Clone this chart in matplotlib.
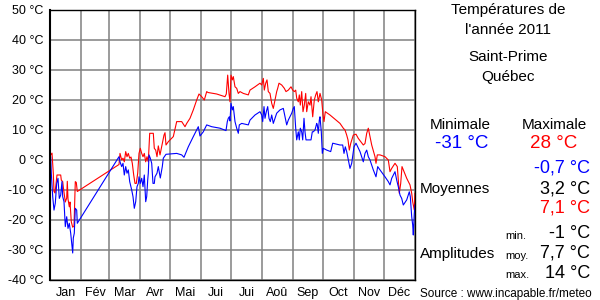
import numpy as np
import matplotlib
matplotlib.use("Agg")
import matplotlib.pyplot as plt

plt.rcParams['font.family'] = ['Liberation Sans', 'DejaVu Sans']

# Daily maximum temperatures (day of year, °C)
max_days = [0, 0.7, 2, 3.3, 4, 5, 6, 7, 10.7, 11.3, 12.7, 13.3, 14.5, 15.3, 16.7, 17.3, 18, 19.3, 20,
            21.3, 22.7, 24, 25.3, 26.3, 27.3,
            69, 70, 71.7, 73, 74.3, 75.7, 77, 78.3, 79.7, 81, 82.3, 83.7, 85, 86.3, 87.7, 89, 90.3,
            91.7, 93, 94.3, 95.7, 97, 98.3, 99.7, 103.3, 104.3, 105.7, 107, 108.3, 110, 112, 114,
            115, 116, 118.3, 123.3, 126.7, 131.7, 135, 136.7, 140, 143.3, 146.7, 149, 151.7, 154.3,
            156.7, 158, 166.7, 175, 176.3, 177.7, 179, 180, 181, 182.3, 183.3, 185, 186.7, 188.3,
            190, 193.3, 198.3, 200, 205, 210, 211.7, 213.3, 214.3, 215.7, 217, 218.3, 220, 221.7,
            223.3, 225, 226.7, 227.7, 229, 231.7, 234.3, 236, 238.3, 241, 242.7, 244.3, 245.7,
            246.7, 248.3, 249.3, 250.3, 251.7, 253, 254.3, 255.7, 256.7, 258.3, 260, 261, 262.7,
            264.3, 265.7, 267, 268.3, 270, 271.7, 273, 274, 275.3, 280, 290, 293.3, 295, 296.7,
            298, 299.3, 300.7, 303.3, 306, 308.3, 313.3, 315, 316.7, 318.3, 319.3, 321.7, 325,
            326, 327.3, 330, 335, 338.3, 340, 341.7, 345, 347.3, 349.3, 350.7, 352, 353.3, 356.7,
            360, 361.7, 362.7, 363.3, 364.3, 365]
max_temps = [1.0, 1.7, 2.3, -4.4, -10.5, -11, -8, -5, -5, -6.7, -7.2, -9, -12, -14, -12.7, -7.1, -13,
             -15.6, -14, -20.6, -22.4, -22, -7.2, -7.5, -10.5,
             -1.5, 2.2, 0, 0.6, -0.6, 2.8, 1.1, 2.2, 0.6, 1, -1.1, -5, -7.8, -7.8, -4.4, 2.2, 3.9,
             2.2, 1.1, 2.2, -0.6, 1.1, -0.6, 8.9, 8.9, 3.9, 3.3, 1.1, 4.7, 1.7, 5, 8.3,
             9.1, 5, 6.1, 7.8, 12.8, 12.8, 11.1, 12.2, 13.9, 16.7, 20, 22, 21.1, 20,
             22.8, 22.5, 22, 21.1, 22, 28.3, 22.2, 19.4, 28.3, 26.7, 27.8, 24.4, 23.9, 22.2,
             22.8, 22.2, 21.7, 23.3, 24.4, 25.6, 25, 27.2, 23.3, 25.6, 26.7, 22.8, 22.2, 18.9,
             17.2, 20, 22.8, 23.9, 25.6, 25, 23.9, 22.8, 23.3, 24.4, 23.3, 22.8, 23.3,
             20.6, 19.4, 21.7, 18.3, 22.8, 16.1, 18.3, 22.2, 16.1, 19.4, 18.3, 21.1, 14.4,
             20, 21.7, 22.8, 19.4, 22.2, 20, 15, 12.8, 16.1, 15, 12.2, 10.6, 10, 8.3,
             6.7, 3.3, 5.5, 8.3, 8.6, 7.2, 5, 5.5, 8.9, 10.6, 8.9, 5, 1.1,
             -1.1, 1.7, 1.7, 1.1, 0, -3.9, -2.8, -1.1, -2.2, -11.1, -7.8, -2.2, -3.3, -6.1,
             -8.3, -11.1, -13.9, -15, -16.7, -11.1]

# Daily minimum temperatures (day of year, °C)
min_days = [0, 0.7, 1.3, 2.7, 4, 5.3, 6.7, 8, 9.3, 10.7, 12, 12.7, 14, 15.3, 16.7, 18, 19.3, 20.7,
            22.7, 23.3, 24.3, 25.3, 26.7, 27.3,
            69, 70, 71.7, 73, 74.3, 75.7, 77, 78.3, 79.7, 81.7, 83, 84.3, 85.7, 87, 88.3, 89, 90.3,
            91.7, 93, 94.3, 95.7, 96.7, 97.7, 98.3, 99, 100.3, 101.7, 103, 104.3, 105, 107, 108.3,
            109.5, 110.3, 112.3, 113.3, 116, 126.7, 131.7, 134, 138.3, 143.3, 146.7, 148.3, 150,
            153.3, 156.7, 161.7, 170, 176, 177.3, 178.3, 179.3, 180, 181, 182.3, 183.3, 185, 186.7,
            188.3, 189.3, 191.7, 198.3, 200, 205, 210, 211.7, 212.7, 214, 215, 216.3, 217.7, 219,
            220.3, 221.7, 223.3, 225, 226.7, 230, 233.3, 235, 236.7, 238.3, 241.7, 243.3, 244.3,
            245.7, 246.7, 248.3, 249.3, 250.3, 251.7, 252.7, 254, 255, 256, 261, 262.3, 263.3, 265,
            266.7, 267.3, 268.3, 269.3, 270, 271.3, 272.3, 273.3, 276.7, 280.7, 282.7, 290, 292.7,
            294, 295.3, 296.7, 298.3, 300, 301.7, 304, 306, 310, 313.3, 315, 316.7, 318.3, 320,
            323.3, 326, 327.7, 330, 335, 338.3, 340, 341.7, 345, 346.7, 348.3, 350, 351.7, 353.3,
            356.7, 359.3, 360.3, 361.7, 362.7, 363.3, 364.3, 365]
min_temps = [0.7, 1.1, -4.4, -12.2, -16.7, -14.4, -7.8, -6.1, -12.8, -11.7, -7.2, -12.2, -13.9, -22.2,
             -18.9, -22.8, -21.1, -24.4, -31, -26, -24.4, -16.1, -16.7, -21.1,
             1.1, -0.6, -2.2, -1.1, -5, -2.2, -4.4, -3.3, -7.2, -10, -12.2, -16.1, -13.9, -8.9, -7.8,
             -5.6, -7.8, -6.1, -8.9, -5, -13.9, -12.2, -6.7, -4.4, 1.7, 0.6, -1.1, -7.8, -7.8, -5.6,
             -4.4, -2.2, -4.4, -6, -2.2, 0.6, 1.9, 2.2, 1.7, 0.9, 4.4, 7.8, 10, 11.1, 8,
             9.4, 11.7, 11.1, 10.6, 9.8, 12.8, 13.9, 14.4, 13, 18.9, 16.7, 17.8, 12.8, 10.6,
             8.9, 11.7, 12.2, 11.7, 13.3, 15, 16.1, 15, 12.8, 17.8, 13.9, 16.1, 17.8, 13.9,
             12.8, 15, 12.2, 13.9, 15.6, 16.7, 17.2, 14.4, 11.7, 13.3, 15.6, 17.2, 17.8,
             10.6, 6.7, 9.4, 6.7, 10.6, 9.4, 6.7, 13.9, 9.4, 6.7, 6.7, 9.4, 9.4, 10,
             12.2, 11.7, 8.9, 13.3, 14.4, 9.4, 2.2, 3.9, 3.3, 2.8, 5.6, 5, 5,
             2.2, 4.4, 2.8, 0, -2.8, -1.1, 4.4, 5.6, 2.8, -0.6, 2.2, 3.3, 1.1, 0,
             -3.3, -5.6, -2.2, -3.3, -5.6, -7.2, -8.3, -6.1, -3.9, -6.7, -8.9, -11.7, -12.8, -15,
             -13.3, -10.6, -12.2, -18.9, -21.7, -25, -17.8, -15]

month_starts = [0, 31, 59, 90, 120, 151, 181, 212, 243, 273, 304, 334, 365]
month_labels = ['Jan', 'Fév', 'Mar', 'Avr', 'Mai', 'Jui', 'Jui', 'Aoû', 'Sep', 'Oct', 'Nov', 'Déc']
temp_ticks = [-40, -30, -20, -10, 0, 10, 20, 30, 40, 50]

fig = plt.figure(figsize=(6, 3), dpi=100)
ax = fig.add_axes([50 / 600, 20 / 300, 365 / 600, 270 / 300])

ax.plot(max_days, max_temps, color='#ff0000', lw=0.8)
ax.plot(min_days, min_temps, color='#0000ff', lw=0.8)

ax.set_xlim(0, 365)
ax.set_ylim(-40, 50)

ax.set_xticks(month_starts)
ax.set_xticklabels([])
mids = [(a + b) / 2 for a, b in zip(month_starts[:-1], month_starts[1:])]
ax.set_xticks(mids, minor=True)
ax.set_xticklabels(month_labels, minor=True, fontsize=9)
ax.set_yticks(temp_ticks)
ax.set_yticklabels([f"{t} °C" for t in temp_ticks], fontsize=9)
ax.tick_params(which='both', length=0)
ax.tick_params(axis='x', which='minor', pad=5)
ax.tick_params(axis='y', pad=5)
ax.grid(True, which='major', color='#808080', lw=1.1)
ax.set_axisbelow(True)
for side in ['top', 'right', 'bottom']:
    ax.spines[side].set_linewidth(1.0)
ax.spines['left'].set_linewidth(1.5)


def put(x, y, s, **kw):
    fig.text(x / 600, 1 - y / 300, s, va='center', **kw)


# Right-hand panel
put(508, 10, "Températures de", ha='center', fontsize=11)
put(508, 30, "l'année 2011", ha='center', fontsize=11)
put(508, 57, "Saint-Prime", ha='center', fontsize=11)
put(508, 77, "Québec", ha='center', fontsize=11)

put(460, 125, "Minimale", ha='center', fontsize=11)
put(554, 125, "Maximale", ha='center', fontsize=11)
put(462, 143, "-31 °C", ha='center', fontsize=13.5, color='#0000ff')
put(554, 143, "28 °C", ha='center', fontsize=13.5, color='#ff0000')

put(420, 189, "Moyennes", ha='left', fontsize=11)
put(590, 168, "-0,7 °C", ha='right', fontsize=13, color='#0000ff')
put(590, 189, "3,2 °C", ha='right', fontsize=13)
put(590, 208, "7,1 °C", ha='right', fontsize=13, color='#ff0000')

put(420, 254, "Amplitudes", ha='left', fontsize=11)
put(505, 236, "min.", ha='left', fontsize=8)
put(505, 256, "moy.", ha='left', fontsize=8)
put(505, 275, "max.", ha='left', fontsize=8)
put(590, 233, "-1 °C", ha='right', fontsize=13)
put(590, 253, "7,7 °C", ha='right', fontsize=13)
put(590, 273, "14 °C", ha='right', fontsize=13)

put(420, 294, "Source : www.incapable.fr/meteo", ha='left', fontsize=8.5)

fig.savefig('out.png', dpi=100)
